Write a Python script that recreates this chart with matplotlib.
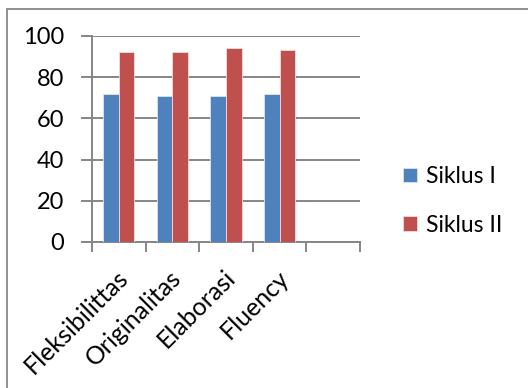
import matplotlib
matplotlib.use("Agg")
import matplotlib.pyplot as plt
from matplotlib.patches import Rectangle
import matplotlib.transforms as mtransforms
import numpy as np

categories = ["Fleksibilittas", "Originalitas", "Elaborasi", "Fluency", ""]
siklus_1 = [72, 71, 71, 72, None]
siklus_2 = [92, 92, 94, 93, None]
series_names = ["Siklus I", "Siklus II"]
yticks = [0, 20, 40, 60, 80, 100]

plt.rcParams["font.family"] = ["Lato", "DejaVu Sans"]

W, H = 528, 388
fig = plt.figure(figsize=(W / 100, H / 100), dpi=100)
fig.patch.set_facecolor("white")

# chart-area border
fig.patches.append(Rectangle((7 / W, -0.1), 1.2, 1 - 9 / H + 0.1,
                             transform=fig.transFigure, fill=False,
                             edgecolor="#878787", linewidth=1.3))

ax = fig.add_axes([92 / W, 1 - 242 / H, (360 - 92) / W, (242 - 36) / H])

x = np.arange(len(categories))
w = 0.29
v1 = [np.nan if v is None else v for v in siklus_1]
v2 = [np.nan if v is None else v for v in siklus_2]
ax.bar(x - w / 2, v1, w, color="#4F81BD", edgecolor="#dbe5f1", linewidth=0.6,
       label=series_names[0], zorder=3)
ax.bar(x + w / 2, v2, w, color="#C0504D", edgecolor="#f2dcdb", linewidth=0.6,
       label=series_names[1], zorder=3)

ax.set_xlim(-0.5, len(categories) - 0.5)
ax.set_ylim(0, 100)
ax.set_yticks(yticks)
ax.yaxis.grid(True, color="#868686", linewidth=1.4, zorder=0)
ax.set_axisbelow(True)

ax.set_xticks(x)
ax.set_xticklabels(categories, rotation=45, ha="right", va="top",
                   rotation_mode="anchor", fontsize=18)
ax.tick_params(axis="x", length=0, pad=17)
shift = mtransforms.ScaledTranslation(-2 / 72, 0, fig.dpi_scale_trans)
for lbl in ax.get_xticklabels():
    lbl.set_transform(lbl.get_transform() + shift)
ax.set_xticks(np.arange(len(categories) + 1) - 0.5, minor=True)
ax.tick_params(axis="x", which="minor", length=7, width=1.4, color="#868686",
               direction="out")
ax.tick_params(axis="y", length=8, width=1.4, color="#868686", labelsize=17,
               pad=12)

for s in ["top", "right"]:
    ax.spines[s].set_visible(False)
for s in ["left", "bottom"]:
    ax.spines[s].set_color("#868686")
    ax.spines[s].set_linewidth(1.4)

leg = fig.legend(loc="upper left", bbox_to_anchor=(403 / W, 1 - 166 / H),
                 frameon=False, fontsize=16.5, handlelength=0.6,
                 handleheight=0.6, handletextpad=0.4, labelspacing=1.2,
                 borderpad=0, borderaxespad=0)

fig.savefig("out.png", dpi=100, facecolor="white")
